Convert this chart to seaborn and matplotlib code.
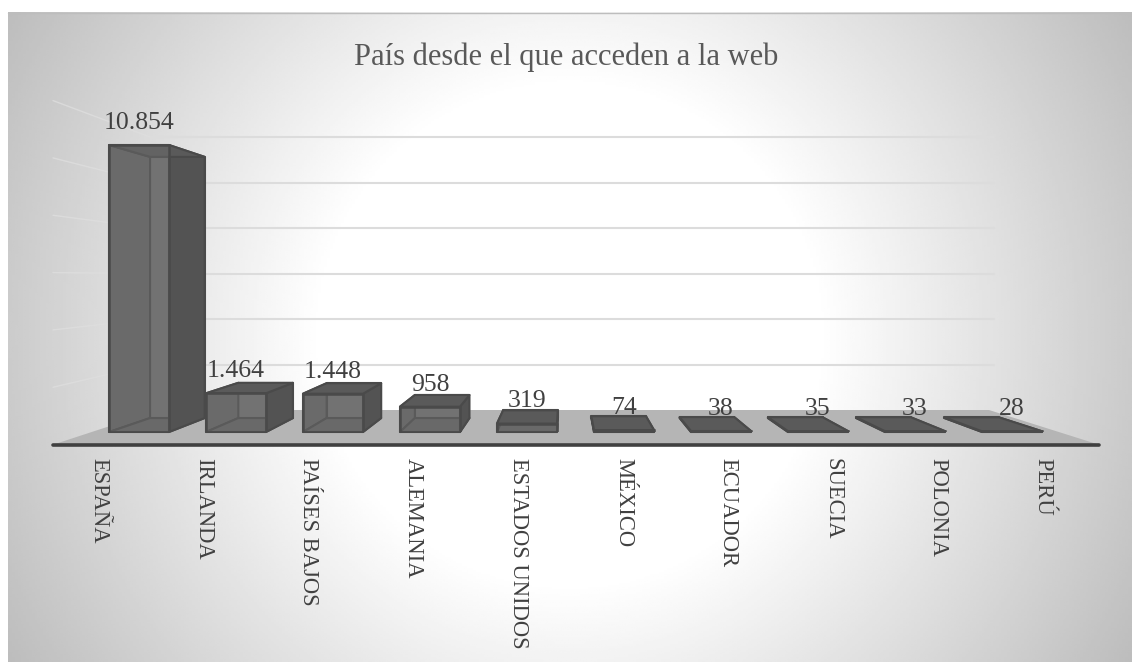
import matplotlib
matplotlib.use('Agg')
import matplotlib.pyplot as plt
import seaborn as sns
import numpy as np
import pandas as pd
from matplotlib.patches import Polygon

# datos
paises = ['ESPAÑA', 'IRLANDA', 'PAÍSES BAJOS', 'ALEMANIA', 'ESTADOS UNIDOS',
          'MÉXICO', 'ECUADOR', 'SUECIA', 'POLONIA', 'PERÚ']
visitas = [10854, 1464, 1448, 958, 319, 74, 38, 35, 33, 28]
titulo = 'País desde el que acceden a la web'

W, H = 1132, 662
BASE_Y = 432          # pixel row of value 0 on the front of the bars
PX_PER_VALUE = 287 / 10854
STEP = 97             # px between bars
FIRST_CENTER = 139
VP = (565, 277)       # vanishing point of the fake 3d
DEPTH = 0.09
EDGE = '#4a4a4a'

sns.set_theme(style='white')
plt.rcParams['font.family'] = ['Liberation Serif', 'DejaVu Serif']

fig = plt.figure(figsize=(W / 100, H / 100), dpi=100, facecolor='white')

# fondo en coordenadas de pixel
bg = fig.add_axes([0, 0, 1, 1])
bg.axis('off')

xx, yy = np.meshgrid(np.linspace(8, W, 400), np.linspace(12, H, 300))
dist = np.hypot(xx - 570, yy - 335)
shade = 1 - 0.26 * np.clip((dist - 250) / 400, 0, None)
bg.imshow(shade, extent=(8, W, H, 12), cmap='gray', vmin=0, vmax=1,
          aspect='auto', zorder=0)
bg.set_xlim(0, W)
bg.set_ylim(H, 0)
bg.plot([8, W], [12.5, 12.5], color='#bdbdbd', lw=1, zorder=1)

# lineas de la pared del fondo y pared izquierda
for k in range(1, 7):
    gy = 410 - 45.5 * k
    bg.plot([150, 994], [gy, gy], color='#dcdcdc', lw=1.5, zorder=1)
    wall_y = 277 + (gy - 277) * 1.26
    bg.plot([53, 150], [wall_y, gy], color='#dedede', lw=1, alpha=0.8, zorder=1)

# suelo
bg.add_patch(Polygon([(52, 445), (1100, 445), (989, 410), (159, 410)],
                     closed=True, facecolor='#b5b5b5', edgecolor='none', zorder=2))
bg.plot([53, 1099], [445, 445], color='#404040', lw=2.6,
        solid_capstyle='round', zorder=3)

bg.text(566, 57, titulo, ha='center', va='center', fontsize=22, color='#595959')

# barras
datos = pd.DataFrame({'pais': paises, 'visitas': visitas})
ax = fig.add_axes([0, (H - BASE_Y) / H, 1, BASE_Y / H])
ax.patch.set_alpha(0)
sns.barplot(data=datos, x='pais', y='visitas', color='#6e6e6e', saturation=1,
            width=60 / STEP, ax=ax, zorder=6, edgecolor=EDGE, linewidth=1.8)
ax.set_xlim(-FIRST_CENTER / STEP, (W - FIRST_CENTER) / STEP)
ax.set_ylim(0, BASE_Y / PX_PER_VALUE)
sns.despine(ax=ax, left=True, bottom=True, top=True, right=True)
ax.set_xlabel('')
ax.set_ylabel('')
ax.set_yticks([])


def to_px(x, v):
    return FIRST_CENTER + x * STEP, BASE_Y - v * PX_PER_VALUE


def to_data(px, py):
    return (px - FIRST_CENTER) / STEP, (BASE_Y - py) / PX_PER_VALUE


def back(px, py):
    return px + (VP[0] - px) * DEPTH, py + (VP[1] - py) * DEPTH


def face(points, color, z):
    ax.add_patch(Polygon([to_data(*p) for p in points], closed=True,
                         facecolor=color, edgecolor=EDGE, lw=1.5,
                         zorder=z, clip_on=False, joinstyle='round'))


# caras de cada barra, de atras hacia delante; el frente queda translucido
for bar in ax.patches:
    x0, x1 = bar.get_x(), bar.get_x() + bar.get_width()
    h = bar.get_height()
    fl, ft = to_px(x0, h)
    fr, fb = to_px(x1, 0)
    bl, bt = back(fl, ft)
    br, _ = back(fr, ft)
    bbl, bb = back(fl, fb)
    bbr, _ = back(fr, fb)

    face([(bl, bt), (br, bt), (bbr, bb), (bbl, bb)], '#767676', 3)
    face([(fl, ft), (bl, bt), (bbl, bb), (fl, fb)], '#686868', 3.2)
    face([(fl, fb), (fr, fb), (bbr, bb), (bbl, bb)], '#666666', 3.5)
    face([(fr, ft), (br, bt), (bbr, bb), (fr, fb)], '#535353', 4)
    face([(fl, ft), (fr, ft), (br, bt), (bl, bt)], '#5a5a5a', 5)
    bar.set_facecolor((0.43, 0.43, 0.43, 0.45))

etiquetas = [f'{v:,}'.replace(',', '.') for v in visitas]
ax.bar_label(ax.containers[0], labels=etiquetas, padding=8, fontsize=18.5,
             color='#404040', zorder=8)

# los nombres van mas separados que las barras (perspectiva del suelo)
label_px = 99 + 104.9 * np.arange(len(paises))
ax.set_xticks((label_px - FIRST_CENTER) / STEP)
ax.set_xticklabels(paises, rotation=-90, ha='center', va='top', fontsize=16.3,
                   color='#404040')
ax.tick_params(axis='x', length=0, pad=19)

fig.savefig('out.png', dpi=100)
